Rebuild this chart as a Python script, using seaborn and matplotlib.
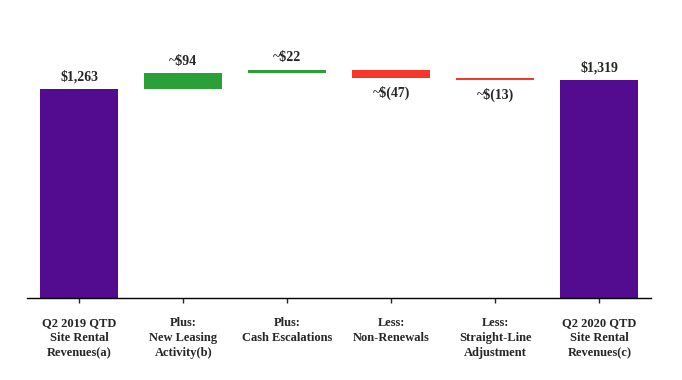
import matplotlib
matplotlib.use('Agg')
import matplotlib.pyplot as plt
import seaborn as sns
import pandas as pd

# waterfall data
categories = ['Q2 2019 QTD\nSite Rental\nRevenues(a)', 'Plus:\nNew Leasing\nActivity(b)',
              'Plus:\nCash Escalations', 'Less:\nNon-Renewals',
              'Less:\nStraight-Line\nAdjustment', 'Q2 2020 QTD\nSite Rental\nRevenues(c)']
changes = [1263, 94, 22, -47, -13, 1319]
value_labels = ['$1,263', '~$94', '~$22', '~$(47)', '~$(13)', '$1,319']
kinds = ['total', 'up', 'up', 'down', 'down', 'total']

colors = {'total': '#530B8F', 'up': '#2CA038', 'down': '#F8362A'}

# compute bottoms/heights for the floating bars
bottoms = []
heights = []
running = 0
for c, k in zip(changes, kinds):
    if k == 'total':
        bottoms.append(0)
        heights.append(c)
        running = c
    elif c >= 0:
        bottoms.append(running)
        heights.append(c)
        running += c
    else:
        running += c
        bottoms.append(running)
        heights.append(-c)

df = pd.DataFrame({'category': categories, 'height': heights, 'bottom': bottoms, 'kind': kinds})

sns.set_style('white')
plt.rcParams['font.family'] = ['Liberation Serif', 'DejaVu Serif']

fig = plt.figure(figsize=(6.82, 3.8), dpi=100)
ax = fig.add_axes([0.04, 0.216, 0.915, 0.74])

sns.barplot(data=df, x='category', y='height', hue='category',
            palette=[colors[k] for k in kinds], legend=False, saturation=1,
            width=0.75, ax=ax, errorbar=None)
# lift the floating bars onto their running totals
for patch, b in zip(ax.patches, bottoms):
    patch.set_y(b)
    patch.set_edgecolor('none')

# value labels
for i, (b, h, c, lab) in enumerate(zip(bottoms, heights, changes, value_labels)):
    if c >= 0:
        ax.annotate(lab, (i, b + h), xytext=(0, 4), textcoords='offset points',
                    ha='center', va='bottom', fontsize=10, fontweight='bold')
    else:
        ax.annotate(lab, (i, b), xytext=(0, -6), textcoords='offset points',
                    ha='center', va='top', fontsize=10, fontweight='bold')

ax.set_xlim(-0.5, 5.5)
ax.set_ylim(0, 1700)
ax.set_xlabel('')
ax.set_ylabel('')
ax.set_yticks([])
ax.tick_params(axis='x', length=3.5, width=1, direction='out', bottom=True, pad=10)
for lbl in ax.get_xticklabels():
    lbl.set_fontweight('bold')
    lbl.set_fontsize(9)
    lbl.set_linespacing(1.35)
for side in ['top', 'right', 'left']:
    ax.spines[side].set_visible(False)
ax.spines['bottom'].set_color('black')
ax.spines['bottom'].set_linewidth(1)

fig.savefig('out.png', dpi=100)
